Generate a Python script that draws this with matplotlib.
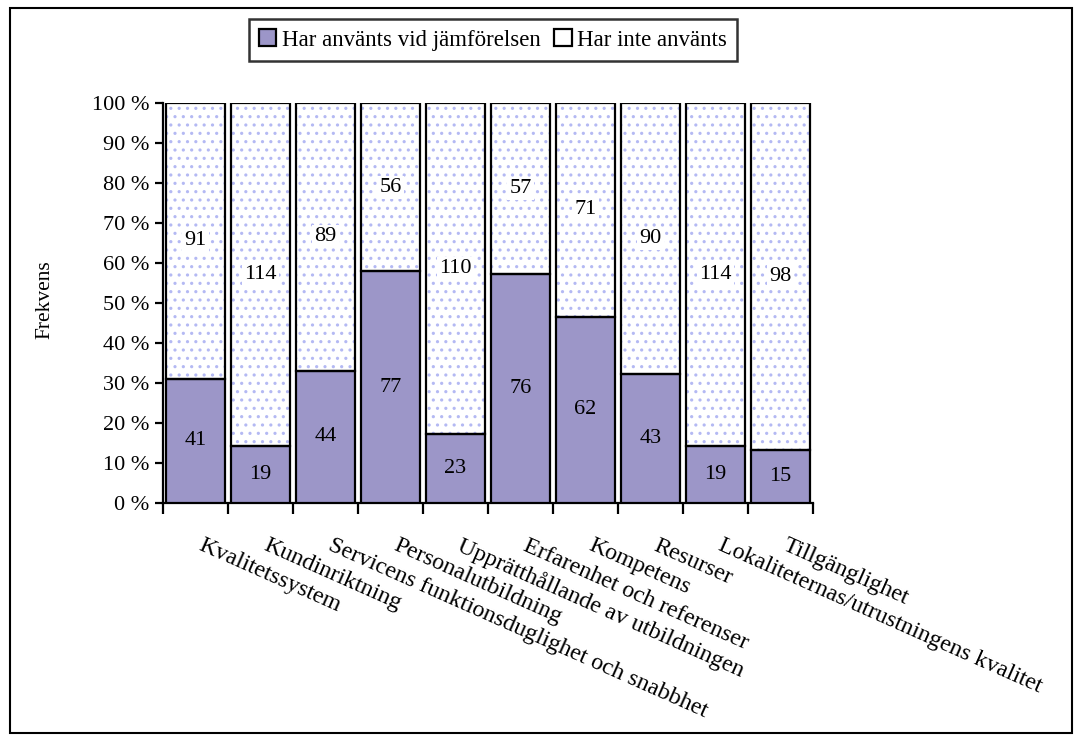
import matplotlib
matplotlib.use("Agg")
import matplotlib.pyplot as plt
import numpy as np
from matplotlib.patches import Patch, Rectangle

plt.rcParams.update({
    "font.family": ["Liberation Serif", "DejaVu Serif"],
    "hatch.linewidth": 1.1,
})

categories = [
    "Kvalitetssystem",
    "Kundinriktning",
    "Servicens funktionsduglighet och snabbhet",
    "Personalutbildning",
    "Upprätthållande av utbildningen",
    "Erfarenhet och referenser",
    "Kompetens",
    "Resurser",
    "Lokaliteternas/utrustningens kvalitet",
    "Tillgänglighet",
]
used = [41, 19, 44, 77, 23, 76, 62, 43, 19, 15]
not_used = [91, 114, 89, 56, 110, 57, 71, 90, 114, 98]
yticks = [0, 10, 20, 30, 40, 50, 60, 70, 80, 90, 100]

C_USED = "#9c96c8"
C_HATCH = "#b4b9f3"

used = np.array(used, dtype=float)
not_used = np.array(not_used, dtype=float)
total = used + not_used
p_used = used / total * 100
p_not = not_used / total * 100

fig = plt.figure(figsize=(10.79, 7.38), dpi=100)
ax = fig.add_axes([0.1511, 0.3184, 0.6024, 0.542])

x = np.arange(len(categories)) + 0.5
w = 0.9

ax.bar(x, p_used, width=w, color=C_USED, edgecolor="black", linewidth=1.6, zorder=3)
# hatched fill for the upper segment, then outline on top
ax.bar(x, p_not, width=w, bottom=p_used, color="white", edgecolor=C_HATCH,
       hatch="..", linewidth=0, zorder=2)
ax.bar(x, p_not, width=w, bottom=p_used, fill=False, edgecolor="black",
       linewidth=1.6, zorder=3)

for xi, pu, pn, u, n in zip(x, p_used, p_not, used, not_used):
    ax.text(xi, pu / 2, f"{int(u)}", ha="center", va="center", fontsize=16, zorder=4)
    ax.text(xi, pu + pn / 2, f"{int(n)}", ha="center", va="center", fontsize=16,
            zorder=4, bbox=dict(facecolor="white", edgecolor="none", pad=1.5))

ax.set_xlim(0, len(categories))
ax.set_ylim(0, 100)
ax.set_yticks(yticks)
ax.set_yticklabels([f"{t} %" for t in yticks], fontsize=16)
ax.set_xticks(np.arange(len(categories) + 1))
ax.set_xticklabels([])
ax.tick_params(axis="y", direction="out", length=6, width=1.6, pad=4)
ax.tick_params(axis="x", direction="out", length=8, width=1.6)
for side in ["top", "right"]:
    ax.spines[side].set_visible(False)
for side in ["left", "bottom"]:
    ax.spines[side].set_linewidth(1.6)

for xi, lab in zip(x, categories):
    ax.text(xi + 0.12, -8, lab, rotation=-24, rotation_mode="anchor",
            ha="left", va="top", fontsize=17.3)

fig.text(45 / 1079, 1 - 300 / 738, "Frekvens", rotation=90, ha="center",
         va="center", fontsize=15.5)

handles = [
    Patch(facecolor=C_USED, edgecolor="black", linewidth=1.6),
    Patch(facecolor="white", edgecolor="black", linewidth=1.6),
]
leg = fig.legend(handles, ["Har använts vid jämförelsen", "Har inte använts"],
                 loc="center", bbox_to_anchor=(493 / 1079, 1 - 40 / 738), ncol=2,
                 fontsize=16.5, frameon=True, fancybox=False, handlelength=0.75,
                 handleheight=0.75, handletextpad=0.25, columnspacing=0.6,
                 borderpad=0.45, borderaxespad=0)
leg.get_frame().set_edgecolor("black")
leg.get_frame().set_linewidth(1.8)

fig.patches.append(Rectangle((10 / 1079, 1 - 733 / 738), 1062 / 1079, 725 / 738,
                             transform=fig.transFigure, fill=False,
                             edgecolor="black", linewidth=1.5))

fig.savefig("out.png", dpi=100)
